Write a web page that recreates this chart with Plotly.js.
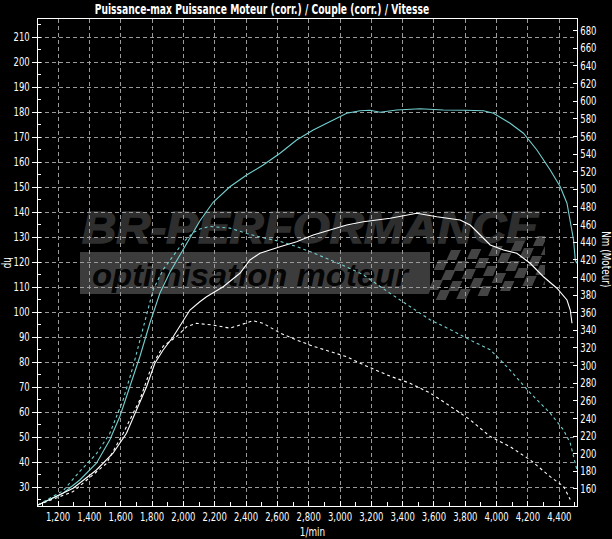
<!DOCTYPE html>
<html>
<head>
<meta charset="utf-8">
<script src="https://cdn.plot.ly/plotly-3.0.1.min.js"></script>
<style>html,body{margin:0;padding:0;background:#000;}#chart{width:612px;height:539px;}</style>
</head>
<body>
<div id="chart"></div>
<script>
// ---- Data ----
const rpmTunedPower = [1072, 1232, 1339, 1445, 1530, 1594, 1658, 1722, 1786, 1850, 1914, 1978, 2042, 2105, 2190, 2297, 2404, 2510, 2617, 2723, 2829, 2936, 3043, 3128, 3192, 3256, 3362, 3511, 3660, 3800, 3916, 3980, 4086, 4171, 4257, 4342, 4406, 4449, 4470, 4491, 4502, 4512];
const hpTuned = [22.9, 27.6, 32.9, 39.6, 48.9, 58.2, 70.2, 82.2, 95.6, 107.6, 116, 123, 130, 136.5, 144, 150.2, 154.9, 158.9, 163.6, 168.9, 172.9, 176.2, 179.6, 180.6, 180.8, 180.0, 180.9, 181.4, 180.9, 180.8, 180.6, 179.6, 175.6, 171.6, 164.9, 156.9, 150.2, 143.6, 136.9, 128.9, 120.9, 119.6];

const rpmStockPower = [1072, 1296, 1445, 1551, 1637, 1701, 1765, 1818, 1871, 1935, 1999, 2042, 2105, 2148, 2254, 2361, 2425, 2489, 2617, 2723, 2829, 2936, 3043, 3149, 3320, 3490, 3618, 3767, 3831, 3895, 3959, 4044, 4129, 4214, 4299, 4385, 4449, 4470, 4481];
const hpStock = [22.9, 29.6, 36.9, 43.6, 51.6, 60.9, 70.2, 79.6, 84.9, 90.2, 96.9, 100.9, 104.2, 106.2, 110.2, 115.6, 120.9, 123.6, 126.2, 128.2, 130.9, 132.9, 134.9, 136.2, 137.6, 139.6, 138.2, 136.9, 134.9, 130.9, 126.9, 124.9, 123.6, 119.6, 114.2, 109.6, 104.9, 100.9, 95.6];

const rpmTunedTorque = [1072, 1232, 1339, 1445, 1530, 1615, 1679, 1743, 1807, 1871, 1935, 1999, 2063, 2105, 2169, 2297, 2404, 2510, 2617, 2723, 2829, 2936, 3043, 3149, 3235, 3320, 3447, 3575, 3703, 3831, 3959, 4086, 4214, 4342, 4427, 4470, 4491, 4512];
const nmTuned = [142, 158, 180, 200, 223, 261, 299, 344, 386, 409, 424, 440, 451, 455, 458, 456, 450, 445, 441, 435, 428, 420, 412, 403, 392, 382, 367, 352, 341, 329, 318, 295, 269, 246, 227, 212, 197, 182];

const rpmStockTorque = [1072, 1296, 1509, 1615, 1722, 1797, 1871, 1957, 2020, 2084, 2190, 2297, 2361, 2446, 2510, 2617, 2723, 2829, 2936, 3043, 3149, 3256, 3320, 3447, 3575, 3703, 3831, 3959, 4086, 4214, 4342, 4427, 4470];
const nmStock = [142, 157, 189, 223, 261, 299, 322, 333, 344, 348, 346, 342.5, 346, 351, 348, 337, 329, 322, 316, 310, 301, 293, 288, 280, 269, 254, 238.5, 219.5, 208, 193, 174, 163, 148];

const xTickVals = [1200, 1400, 1600, 1800, 2000, 2200, 2400, 2600, 2800, 3000, 3200, 3400, 3600, 3800, 4000, 4200, 4400];
const xTickText = ["1,200", "1,400", "1,600", "1,800", "2,000", "2,200", "2,400", "2,600", "2,800", "3,000", "3,200", "3,400", "3,600", "3,800", "4,000", "4,200", "4,400"];
const hpTicks = [30, 40, 50, 60, 70, 80, 90, 100, 110, 120, 130, 140, 150, 160, 170, 180, 190, 200, 210];
const nmTicks = [160, 180, 200, 220, 240, 260, 280, 300, 320, 340, 360, 380, 400, 420, 440, 460, 480, 500, 520, 540, 560, 580, 600, 620, 640, 660, 680];

const chartTitle = "Puissance-max Puissance Moteur (corr.) / Couple (corr.) / Vitesse";
const xTitle = "1/min";
const yTitle = "hp";
const y2Title = "Nm (Moteur)";

// ---- Styling ----
const FONT = "'Liberation Sans Narrow', 'DejaVu Sans Condensed', 'Liberation Sans', sans-serif";
const CYAN = "#74cfcf";
const WHITE = "#ffffff";

// watermark (decorative logo) as an SVG image behind the plot
function watermarkSvg() {
  let checkers = "";
  const cs = 10;
  for (let r = 0; r < 5; r++) {
    for (let c = 0; c < 13; c++) {
      const x = 340 + c * cs + r * 2;
      const y = 47 + r * cs - Math.round(c * 1.2) + Math.round(3 * Math.sin(c / 2));
      const fill = ((r + c) % 2 === 0) ? "#000" : "#444";
      checkers += `<rect x="${x}" y="${y}" width="${cs}" height="${cs}" fill="${fill}"/>`;
    }
  }
  const svg = `<svg xmlns="http://www.w3.org/2000/svg" width="467" height="97" viewBox="0 0 467 97">
<text x="4" y="40" font-family="Liberation Sans, Arial, sans-serif" font-weight="bold" font-style="italic" font-size="44" fill="#2e2e2e" stroke="#2e2e2e" stroke-width="1.5" textLength="456" lengthAdjust="spacingAndGlyphs">BR-PERFORMANCE</text>
<rect x="2" y="49" width="350" height="42" fill="#3c3c3c"/>
<g transform="skewX(-25) translate(45,0)">${checkers}</g>
<text x="14" y="83" font-family="Liberation Sans, Arial, sans-serif" font-weight="bold" font-style="italic" font-size="32" fill="#050505" textLength="316" lengthAdjust="spacingAndGlyphs">optimisation moteur</text>
</svg>`;
  return "data:image/svg+xml;charset=utf-8," + encodeURIComponent(svg);
}

const traces = [
  { x: rpmTunedPower, y: hpTuned, type: "scatter", mode: "lines", yaxis: "y",
    line: { color: CYAN, width: 1.1 }, name: "Puissance (modifié)" },
  { x: rpmStockPower, y: hpStock, type: "scatter", mode: "lines", yaxis: "y",
    line: { color: WHITE, width: 1.1 }, name: "Puissance (série)" },
  { x: rpmTunedTorque, y: nmTuned, type: "scatter", mode: "lines", yaxis: "y2",
    line: { color: CYAN, width: 1.1, dash: "3px,3px" }, name: "Couple (modifié)" },
  { x: rpmStockTorque, y: nmStock, type: "scatter", mode: "lines", yaxis: "y2",
    line: { color: WHITE, width: 1.1, dash: "3px,3px" }, name: "Couple (série)" }
];

const layout = {
  width: 612, height: 539,
  paper_bgcolor: "#000000",
  plot_bgcolor: "rgba(0,0,0,0)",
  showlegend: false,
  margin: { l: 38, r: 35, t: 19, b: 33, pad: 0 },
  font: { family: FONT, color: "#ffffff", size: 11 },
  title: { text: chartTitle, font: { family: FONT, size: 14, color: "#ffffff", weight: "bold" },
           x: 0.428, xanchor: "center", xref: "container", y: 0.983, yanchor: "middle", yref: "container" },
  xaxis: {
    range: [1072, 4513], tickvals: xTickVals, ticktext: xTickText, tickangle: 0,
    showgrid: true, gridcolor: "#9a9a9a", griddash: "4px,3px", gridwidth: 1,
    showline: true, linecolor: "#ffffff", linewidth: 1, mirror: true,
    ticks: "inside", ticklen: 5, tickcolor: "#ffffff",
    minor: { dtick: 100, tick0: 1100, ticks: "inside", ticklen: 4, tickcolor: "#ffffff", showgrid: false },
    tickfont: { family: FONT, size: 11.5, color: "#ffffff" }, zeroline: false, fixedrange: true
  },
  yaxis: {
    range: [22.5, 217.3], tickvals: hpTicks,
    showgrid: true, gridcolor: "#9a9a9a", griddash: "4px,3px", gridwidth: 1,
    showline: true, linecolor: "#ffffff", linewidth: 1,
    ticks: "outside", ticklen: 5, tickcolor: "#ffffff",
    minor: { dtick: 5, tick0: 25, ticks: "inside", ticklen: 3, tickcolor: "#ffffff", showgrid: false },
    tickfont: { family: FONT, size: 11.5, color: "#ffffff" }, zeroline: false, fixedrange: true
  },
  yaxis2: {
    range: [140.7, 693.3], tickvals: nmTicks, overlaying: "y", side: "right",
    showgrid: false, showline: true, linecolor: "#ffffff", linewidth: 1,
    ticks: "inside", ticklen: 4, tickcolor: "#ffffff",
    tickfont: { family: FONT, size: 11.5, color: "#ffffff" }, zeroline: false, fixedrange: true
  },
  annotations: [
    { text: xTitle, xref: "paper", yref: "paper", x: (312 - 38) / 539, y: -(532 - 506) / 487,
      xanchor: "center", yanchor: "middle", showarrow: false, font: { family: FONT, size: 12, color: "#ffffff" } },
    { text: yTitle, xref: "paper", yref: "paper", x: -(38 - 8) / 539, y: (506 - 263) / 487,
      xanchor: "center", yanchor: "middle", showarrow: false, textangle: 90, font: { family: FONT, size: 12, color: "#ffffff" } },
    { text: y2Title, xref: "paper", yref: "paper", x: 1 + (606 - 577) / 539, y: (506 - 259) / 487,
      xanchor: "center", yanchor: "middle", showarrow: false, textangle: 90, font: { family: FONT, size: 12, color: "#ffffff" } }
  ],
  images: [
    { source: watermarkSvg(), xref: "paper", yref: "paper",
      x: (78 - 38) / 539, y: (506 - 203) / 487, sizex: 467 / 539, sizey: 97 / 487,
      xanchor: "left", yanchor: "top", sizing: "stretch", layer: "below" }
  ]
};

// squeeze text horizontally to imitate the narrow typeface of the original
function squeezeText(gd) {
  const scaleFor = (el) => el.classList.contains("gtitle") ? 0.73 : 0.82;
  gd.querySelectorAll(".main-svg text").forEach(el => {
    const x = parseFloat(el.getAttribute("x") || "0");
    const y = parseFloat(el.getAttribute("y") || "0");
    const s = scaleFor(el);
    const prev = el.getAttribute("transform") || "";
    el.setAttribute("transform", `${prev} translate(${x},${y}) scale(${s},1) translate(${-x},${-y})`.trim());
  });
}

Plotly.newPlot("chart", traces, layout, { staticPlot: true, displayModeBar: false })
  .then(gd => squeezeText(gd));
</script>
</body>
</html>
